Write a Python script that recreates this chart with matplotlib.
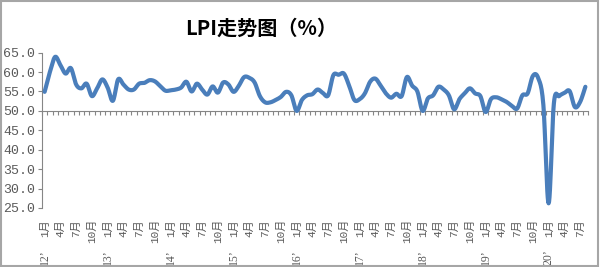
import matplotlib
matplotlib.use("Agg")
import matplotlib.pyplot as plt
import matplotlib.transforms as mtransforms
from matplotlib.patches import Rectangle
import numpy as np

# LPI monthly values, 2012-01 .. 2020-08
lpi = [54.9, 60.0, 63.9, 61.8, 59.6, 61.0, 56.8, 55.8, 57.0, 53.8, 55.8, 58.1,
       56.0, 52.6, 58.1, 56.8, 55.5, 55.5, 57.0, 57.2, 57.9, 57.6, 56.4, 55.2,
       55.3, 55.5, 56.0, 57.5, 55.0, 57.0, 55.5, 54.2, 56.3, 54.7, 57.3, 56.8,
       54.9, 56.5, 58.7, 58.5, 57.3, 53.8, 52.2, 52.2, 52.8, 53.6, 54.9, 54.0,
       50.0, 52.8, 54.0, 54.3, 55.5, 54.6, 54.0, 59.2, 59.3, 59.6, 56.5, 52.8,
       53.0, 54.5, 57.5, 58.3, 56.5, 54.5, 53.4, 54.4, 53.8, 58.7, 56.5, 55.0,
       50.0, 53.2, 54.0, 56.2, 55.5, 54.0, 50.4, 53.0, 54.5, 55.8, 54.5, 53.8,
       49.7, 53.0, 53.5, 53.0, 52.3, 51.3, 50.6, 54.0, 54.5, 59.0, 58.5, 51.5,
       26.2, 51.9, 53.8, 54.6, 55.1, 51.0, 52.3, 56.2]
start_year = 12
yticks = [25.0, 30.0, 35.0, 40.0, 45.0, 50.0, 55.0, 60.0, 65.0]
title = "LPI走势图（%）"

blue = "#4a7ebb"
grey = "#868686"
txt = "#595959"
lab_font = ["Liberation Mono", "Noto Sans CJK SC"]
year_font = ["Liberation Serif", "Noto Sans CJK SC"]


def smooth(xs, ys, n=12):
    # bezier smoothing like excel's smoothed line
    pts = np.column_stack([xs, ys]).astype(float)
    pad = np.vstack([pts[0], pts, pts[-1]])
    t = np.linspace(0, 1, n, endpoint=False)[:, None]
    out = []
    for i in range(len(pts) - 1):
        p0, p1, p2, p3 = pad[i], pad[i + 1], pad[i + 2], pad[i + 3]
        c1 = p1 + (p2 - p0) / 6
        c2 = p2 - (p3 - p1) / 6
        out.append((1 - t) ** 3 * p1 + 3 * (1 - t) ** 2 * t * c1
                   + 3 * (1 - t) * t ** 2 * c2 + t ** 3 * p2)
    out.append(pts[-1:])
    return np.vstack(out)


fig = plt.figure(figsize=(6, 2.67), dpi=100)
ax = fig.add_axes([0.07, 0.221, 0.91, 0.582])

x = np.arange(len(lpi))
sm = smooth(x, lpi)
ax.plot(sm[:, 0], sm[:, 1], color=blue, lw=3.0, solid_capstyle="round",
        solid_joinstyle="round", zorder=3)

ax.set_xlim(-0.5, len(lpi) - 0.5)
ax.set_ylim(25, 65)
ax.set_yticks(yticks)
ax.set_yticklabels([f"{v:.1f}" for v in yticks], family=lab_font,
                   fontsize=9.5, color=txt)
ax.tick_params(axis="y", length=3, color=grey, pad=2)

# category axis crosses at 50
for s in ["top", "right"]:
    ax.spines[s].set_visible(False)
ax.spines["left"].set_color(grey)
ax.spines["bottom"].set_position(("data", 50))
ax.spines["bottom"].set_color(grey)
ax.set_xticks(np.arange(-0.5, len(lpi), 1.0))
ax.set_xticklabels([])
ax.tick_params(axis="x", length=3, color=grey, direction="out")

trans = mtransforms.blended_transform_factory(ax.transData, ax.transAxes)
for i in range(len(lpi)):
    m = i % 12 + 1
    if m in (1, 4, 7, 10):
        ax.text(i, -0.07, f"{m}月", transform=trans, rotation=90,
                ha="center", va="top", fontsize=8, color=txt, family=lab_font)
    if m == 1:
        ax.text(i, -0.265, f"{start_year + i // 12}’", transform=trans,
                rotation=90, ha="center", va="top", fontsize=8.5, color=txt,
                family=year_font)

fig.text(0.435, 0.895, title, ha="center", va="center", fontsize=14.5,
         fontweight="bold", family=["Noto Sans CJK SC", "DejaVu Sans"])

fig.patches.append(Rectangle((0.002, 0.004), 0.994, 0.994, transform=fig.transFigure,
                             fill=False, edgecolor="#a6a6a6", lw=1.5))

fig.savefig("out.png", dpi=100)
